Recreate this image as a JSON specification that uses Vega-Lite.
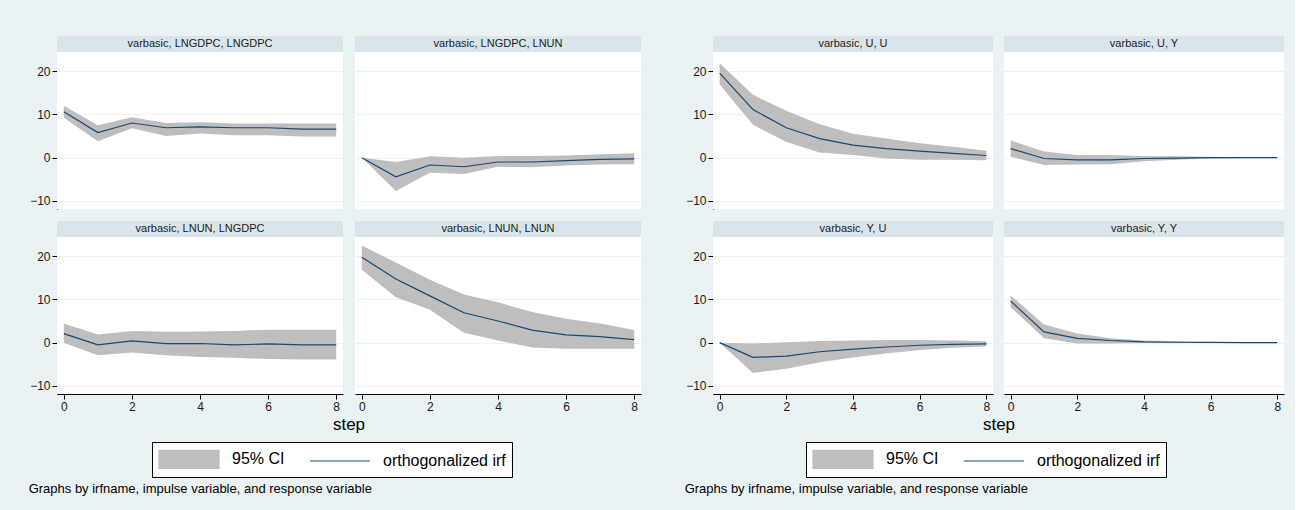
{
  "$schema": "https://vega.github.io/schema/vega-lite/v6.json",
  "background": "#EAF2F3",
  "padding": {"left": 28, "top": 35, "right": 11, "bottom": 16},
  "config": {
    "font": "Liberation Sans",
    "view": {"fill": "white", "stroke": null},
    "axis": {"labelFontSize": 12, "labelColor": "#1a1a1a", "tickColor": "#000", "domainColor": "#000", "tickSize": 5, "labelPadding": 2, "gridColor": "#EAF2F3", "gridWidth": 1.2, "title": null},
    "axisX": {"grid": false},
    "axisY": {"grid": true}
  },
  "datasets": {
    "left": [
      {"panel": "varbasic, LNGDPC, LNGDPC", "step": 0, "irf": 10.6, "lo": 9.2, "hi": 12.0},
      {"panel": "varbasic, LNGDPC, LNGDPC", "step": 1, "irf": 5.8, "lo": 3.8, "hi": 7.5},
      {"panel": "varbasic, LNGDPC, LNGDPC", "step": 2, "irf": 8.0, "lo": 6.8, "hi": 9.3},
      {"panel": "varbasic, LNGDPC, LNGDPC", "step": 3, "irf": 6.9, "lo": 5.0, "hi": 8.0},
      {"panel": "varbasic, LNGDPC, LNGDPC", "step": 4, "irf": 7.1, "lo": 5.6, "hi": 8.2},
      {"panel": "varbasic, LNGDPC, LNGDPC", "step": 5, "irf": 6.9, "lo": 5.2, "hi": 7.9},
      {"panel": "varbasic, LNGDPC, LNGDPC", "step": 6, "irf": 6.9, "lo": 5.2, "hi": 7.9},
      {"panel": "varbasic, LNGDPC, LNGDPC", "step": 7, "irf": 6.6, "lo": 4.9, "hi": 7.9},
      {"panel": "varbasic, LNGDPC, LNGDPC", "step": 8, "irf": 6.6, "lo": 4.9, "hi": 7.9},
      {"panel": "varbasic, LNGDPC, LNUN", "step": 0, "irf": 0, "lo": 0, "hi": 0},
      {"panel": "varbasic, LNGDPC, LNUN", "step": 1, "irf": -4.4, "lo": -7.7, "hi": -1.0},
      {"panel": "varbasic, LNGDPC, LNUN", "step": 2, "irf": -1.7, "lo": -3.5, "hi": 0.3},
      {"panel": "varbasic, LNGDPC, LNUN", "step": 3, "irf": -2.1, "lo": -3.8, "hi": 0.0},
      {"panel": "varbasic, LNGDPC, LNUN", "step": 4, "irf": -1.0, "lo": -2.1, "hi": 0.4},
      {"panel": "varbasic, LNGDPC, LNUN", "step": 5, "irf": -1.0, "lo": -2.2, "hi": 0.4},
      {"panel": "varbasic, LNGDPC, LNUN", "step": 6, "irf": -0.7, "lo": -1.8, "hi": 0.5},
      {"panel": "varbasic, LNGDPC, LNUN", "step": 7, "irf": -0.4, "lo": -1.6, "hi": 0.8},
      {"panel": "varbasic, LNGDPC, LNUN", "step": 8, "irf": -0.3, "lo": -1.5, "hi": 1.0},
      {"panel": "varbasic, LNUN, LNGDPC", "step": 0, "irf": 2.1, "lo": 0.0, "hi": 4.4},
      {"panel": "varbasic, LNUN, LNGDPC", "step": 1, "irf": -0.5, "lo": -2.9, "hi": 1.9},
      {"panel": "varbasic, LNUN, LNGDPC", "step": 2, "irf": 0.4, "lo": -2.3, "hi": 2.7},
      {"panel": "varbasic, LNUN, LNGDPC", "step": 3, "irf": -0.2, "lo": -2.9, "hi": 2.5},
      {"panel": "varbasic, LNUN, LNGDPC", "step": 4, "irf": -0.2, "lo": -3.3, "hi": 2.6},
      {"panel": "varbasic, LNUN, LNGDPC", "step": 5, "irf": -0.5, "lo": -3.5, "hi": 2.7},
      {"panel": "varbasic, LNUN, LNGDPC", "step": 6, "irf": -0.3, "lo": -3.8, "hi": 3.0},
      {"panel": "varbasic, LNUN, LNGDPC", "step": 7, "irf": -0.5, "lo": -3.9, "hi": 3.0},
      {"panel": "varbasic, LNUN, LNGDPC", "step": 8, "irf": -0.5, "lo": -3.9, "hi": 3.0},
      {"panel": "varbasic, LNUN, LNUN", "step": 0, "irf": 19.7, "lo": 16.8, "hi": 22.4},
      {"panel": "varbasic, LNUN, LNUN", "step": 1, "irf": 14.7, "lo": 10.5, "hi": 18.5},
      {"panel": "varbasic, LNUN, LNUN", "step": 2, "irf": 10.8, "lo": 7.6, "hi": 14.5},
      {"panel": "varbasic, LNUN, LNUN", "step": 3, "irf": 6.9, "lo": 2.3, "hi": 11.1},
      {"panel": "varbasic, LNUN, LNUN", "step": 4, "irf": 5.0, "lo": 0.5, "hi": 9.3},
      {"panel": "varbasic, LNUN, LNUN", "step": 5, "irf": 2.9, "lo": -1.1, "hi": 7.1},
      {"panel": "varbasic, LNUN, LNUN", "step": 6, "irf": 1.8, "lo": -1.4, "hi": 5.5},
      {"panel": "varbasic, LNUN, LNUN", "step": 7, "irf": 1.4, "lo": -1.4, "hi": 4.4},
      {"panel": "varbasic, LNUN, LNUN", "step": 8, "irf": 0.7, "lo": -1.4, "hi": 2.9}
    ],
    "right": [
      {"panel": "varbasic, U, U", "step": 0, "irf": 19.5, "lo": 16.9, "hi": 21.8},
      {"panel": "varbasic, U, U", "step": 1, "irf": 11.1, "lo": 7.6, "hi": 14.5},
      {"panel": "varbasic, U, U", "step": 2, "irf": 6.9, "lo": 3.6, "hi": 10.8},
      {"panel": "varbasic, U, U", "step": 3, "irf": 4.4, "lo": 1.2, "hi": 7.7},
      {"panel": "varbasic, U, U", "step": 4, "irf": 2.9, "lo": 0.6, "hi": 5.5},
      {"panel": "varbasic, U, U", "step": 5, "irf": 2.1, "lo": -0.2, "hi": 4.4},
      {"panel": "varbasic, U, U", "step": 6, "irf": 1.5, "lo": -0.5, "hi": 3.3},
      {"panel": "varbasic, U, U", "step": 7, "irf": 1.0, "lo": -0.5, "hi": 2.5},
      {"panel": "varbasic, U, U", "step": 8, "irf": 0.5, "lo": -0.6, "hi": 1.6},
      {"panel": "varbasic, U, Y", "step": 0, "irf": 2.1, "lo": 0.2, "hi": 4.0},
      {"panel": "varbasic, U, Y", "step": 1, "irf": -0.2, "lo": -1.7, "hi": 1.4},
      {"panel": "varbasic, U, Y", "step": 2, "irf": -0.5, "lo": -1.6, "hi": 0.6},
      {"panel": "varbasic, U, Y", "step": 3, "irf": -0.5, "lo": -1.5, "hi": 0.6},
      {"panel": "varbasic, U, Y", "step": 4, "irf": -0.2, "lo": -0.8, "hi": 0.4},
      {"panel": "varbasic, U, Y", "step": 5, "irf": -0.1, "lo": -0.5, "hi": 0.3},
      {"panel": "varbasic, U, Y", "step": 6, "irf": 0.0, "lo": -0.2, "hi": 0.2},
      {"panel": "varbasic, U, Y", "step": 7, "irf": 0.0, "lo": -0.1, "hi": 0.1},
      {"panel": "varbasic, U, Y", "step": 8, "irf": 0.0, "lo": 0.0, "hi": 0.0},
      {"panel": "varbasic, Y, U", "step": 0, "irf": 0, "lo": 0, "hi": 0},
      {"panel": "varbasic, Y, U", "step": 1, "irf": -3.4, "lo": -7.0, "hi": -0.2},
      {"panel": "varbasic, Y, U", "step": 2, "irf": -3.1, "lo": -6.0, "hi": 0.1},
      {"panel": "varbasic, Y, U", "step": 3, "irf": -2.1, "lo": -4.5, "hi": 0.4},
      {"panel": "varbasic, Y, U", "step": 4, "irf": -1.5, "lo": -3.4, "hi": 0.5},
      {"panel": "varbasic, Y, U", "step": 5, "irf": -1.0, "lo": -2.5, "hi": 0.6},
      {"panel": "varbasic, Y, U", "step": 6, "irf": -0.6, "lo": -1.7, "hi": 0.6},
      {"panel": "varbasic, Y, U", "step": 7, "irf": -0.4, "lo": -1.2, "hi": 0.5},
      {"panel": "varbasic, Y, U", "step": 8, "irf": -0.3, "lo": -0.9, "hi": 0.3},
      {"panel": "varbasic, Y, Y", "step": 0, "irf": 9.6, "lo": 8.2, "hi": 10.9},
      {"panel": "varbasic, Y, Y", "step": 1, "irf": 2.5, "lo": 1.0, "hi": 4.2},
      {"panel": "varbasic, Y, Y", "step": 2, "irf": 1.0, "lo": -0.2, "hi": 2.1},
      {"panel": "varbasic, Y, Y", "step": 3, "irf": 0.5, "lo": -0.2, "hi": 1.0},
      {"panel": "varbasic, Y, Y", "step": 4, "irf": 0.2, "lo": -0.1, "hi": 0.5},
      {"panel": "varbasic, Y, Y", "step": 5, "irf": 0.1, "lo": -0.1, "hi": 0.3},
      {"panel": "varbasic, Y, Y", "step": 6, "irf": 0.05, "lo": 0.0, "hi": 0.1},
      {"panel": "varbasic, Y, Y", "step": 7, "irf": 0.0, "lo": 0.0, "hi": 0.0},
      {"panel": "varbasic, Y, Y", "step": 8, "irf": 0.0, "lo": 0.0, "hi": 0.0}
    ]
  },
  "spacing": 43,
  "resolve": {"scale": {"color": "independent"}, "legend": {"color": "independent"}},
  "hconcat": [
    {
      "data": {"name": "left"},
      "title": {"text": "Graphs by irfname, impulse variable, and response variable", "orient": "bottom", "anchor": "start", "fontSize": 13, "fontWeight": "normal", "color": "#000", "offset": 5, "dx": -1},
      "facet": {"field": "panel", "type": "nominal", "sort": ["varbasic, LNGDPC, LNGDPC", "varbasic, LNGDPC, LNUN", "varbasic, LNUN, LNGDPC", "varbasic, LNUN, LNUN"], "header": {"labels": false, "labelExpr": "''", "labelPadding": 0, "labelFontSize": 1, "title": "step", "titleOrient": "bottom", "titleFontSize": 17, "titleFontWeight": "normal", "titleColor": "#000", "titlePadding": 5}},
      "columns": 2,
      "spacing": {"row": 11, "column": 12},
      "spec": {
        "width": 286,
        "height": 173,
        "layer": [
          {
            "transform": [{"filter": "datum.step == 0"}],
            "mark": {"type": "rect", "color": "#DAE5EB"},
            "encoding": {
              "x": {"datum": -0.2, "type": "quantitative", "scale": {"domain": [-0.2, 8.2], "nice": false, "zero": false}},
              "x2": {"datum": 8.2},
              "y": {"datum": 24.38, "type": "quantitative", "scale": {"domain": [-11.85, 28.08], "nice": false, "zero": false}},
              "y2": {"datum": 28.08}
            }
          },
          {
            "transform": [{"filter": "datum.step == 0"}],
            "mark": {"type": "text", "fontSize": 11, "color": "#1a1a1a", "baseline": "middle", "align": "center"},
            "encoding": {
              "x": {"datum": 4, "type": "quantitative"},
              "y": {"datum": 26.23, "type": "quantitative"},
              "text": {"field": "panel"}
            }
          },
          {
            "mark": {"type": "area", "opacity": 1},
            "encoding": {
              "x": {"field": "step", "type": "quantitative", "scale": {"domain": [-0.2, 8.2], "nice": false, "zero": false}, "axis": {"values": [0, 2, 4, 6, 8]}},
              "y": {"field": "lo", "type": "quantitative", "scale": {"domain": [-11.85, 28.08], "nice": false, "zero": false}, "axis": {"values": [-10, 0, 10, 20]}},
              "y2": {"field": "hi"},
              "color": {"datum": "95% CI", "type": "nominal", "scale": {"domain": ["95% CI", "orthogonalized irf"], "range": ["#BEBEBE", "#1A476F"]},
                "legend": {"title": null, "orient": "none", "legendX": 95, "legendY": 406, "direction": "horizontal", "fillColor": "white", "strokeColor": "#000", "cornerRadius": 0, "padding": 6, "labelFontSize": 16, "labelColor": "#000", "labelOffset": 52, "columnPadding": 22, "symbolSize": 400, "symbolStrokeWidth": 1.2, "labelLimit": 300,
                  "encoding": {"symbols": {
                    "shape": {"value": {"expr": "datum.value === '95% CI' ? 'M-1,-0.9H5V0.9H-1Z' : 'M-1,0H5'"}},
                    "fill": {"value": {"expr": "datum.value === '95% CI' ? '#BEBEBE' : 'transparent'"}},
                    "stroke": {"value": {"expr": "datum.value === '95% CI' ? 'transparent' : '#1A476F'"}},
                    "opacity": {"value": 1}
                  }}}}
            }
          },
          {
            "mark": {"type": "line", "strokeWidth": 1.2},
            "encoding": {
              "x": {"field": "step", "type": "quantitative"},
              "y": {"field": "irf", "type": "quantitative"},
              "color": {"datum": "orthogonalized irf", "type": "nominal"}
            }
          }
        ]
      }
    },
    {
      "data": {"name": "right"},
      "title": {"text": "Graphs by irfname, impulse variable, and response variable", "orient": "bottom", "anchor": "start", "fontSize": 13, "fontWeight": "normal", "color": "#000", "offset": 5, "dx": -1},
      "facet": {"field": "panel", "type": "nominal", "sort": ["varbasic, U, U", "varbasic, U, Y", "varbasic, Y, U", "varbasic, Y, Y"], "header": {"labels": false, "labelExpr": "''", "labelPadding": 0, "labelFontSize": 1, "title": "step", "titleOrient": "bottom", "titleFontSize": 17, "titleFontWeight": "normal", "titleColor": "#000", "titlePadding": 5}},
      "columns": 2,
      "spacing": {"row": 11, "column": 11},
      "spec": {
        "width": 280,
        "height": 173,
        "layer": [
          {
            "transform": [{"filter": "datum.step == 0"}],
            "mark": {"type": "rect", "color": "#DAE5EB"},
            "encoding": {
              "x": {"datum": -0.2, "type": "quantitative", "scale": {"domain": [-0.2, 8.2], "nice": false, "zero": false}},
              "x2": {"datum": 8.2},
              "y": {"datum": 24.38, "type": "quantitative", "scale": {"domain": [-11.85, 28.08], "nice": false, "zero": false}},
              "y2": {"datum": 28.08}
            }
          },
          {
            "transform": [{"filter": "datum.step == 0"}],
            "mark": {"type": "text", "fontSize": 11, "color": "#1a1a1a", "baseline": "middle", "align": "center"},
            "encoding": {
              "x": {"datum": 4, "type": "quantitative"},
              "y": {"datum": 26.23, "type": "quantitative"},
              "text": {"field": "panel"}
            }
          },
          {
            "mark": {"type": "area", "opacity": 1},
            "encoding": {
              "x": {"field": "step", "type": "quantitative", "scale": {"domain": [-0.2, 8.2], "nice": false, "zero": false}, "axis": {"values": [0, 2, 4, 6, 8]}},
              "y": {"field": "lo", "type": "quantitative", "scale": {"domain": [-11.85, 28.08], "nice": false, "zero": false}, "axis": {"values": [-10, 0, 10, 20]}},
              "y2": {"field": "hi"},
              "color": {"datum": "95% CI", "type": "nominal", "scale": {"domain": ["95% CI", "orthogonalized irf"], "range": ["#BEBEBE", "#1A476F"]},
                "legend": {"title": null, "orient": "none", "legendX": 93, "legendY": 406, "direction": "horizontal", "fillColor": "white", "strokeColor": "#000", "cornerRadius": 0, "padding": 6, "labelFontSize": 16, "labelColor": "#000", "labelOffset": 52, "columnPadding": 22, "symbolSize": 400, "symbolStrokeWidth": 1.2, "labelLimit": 300,
                  "encoding": {"symbols": {
                    "shape": {"value": {"expr": "datum.value === '95% CI' ? 'M-1,-0.9H5V0.9H-1Z' : 'M-1,0H5'"}},
                    "fill": {"value": {"expr": "datum.value === '95% CI' ? '#BEBEBE' : 'transparent'"}},
                    "stroke": {"value": {"expr": "datum.value === '95% CI' ? 'transparent' : '#1A476F'"}},
                    "opacity": {"value": 1}
                  }}}}
            }
          },
          {
            "mark": {"type": "line", "strokeWidth": 1.2},
            "encoding": {
              "x": {"field": "step", "type": "quantitative"},
              "y": {"field": "irf", "type": "quantitative"},
              "color": {"datum": "orthogonalized irf", "type": "nominal"}
            }
          }
        ]
      }
    }
  ]
}
